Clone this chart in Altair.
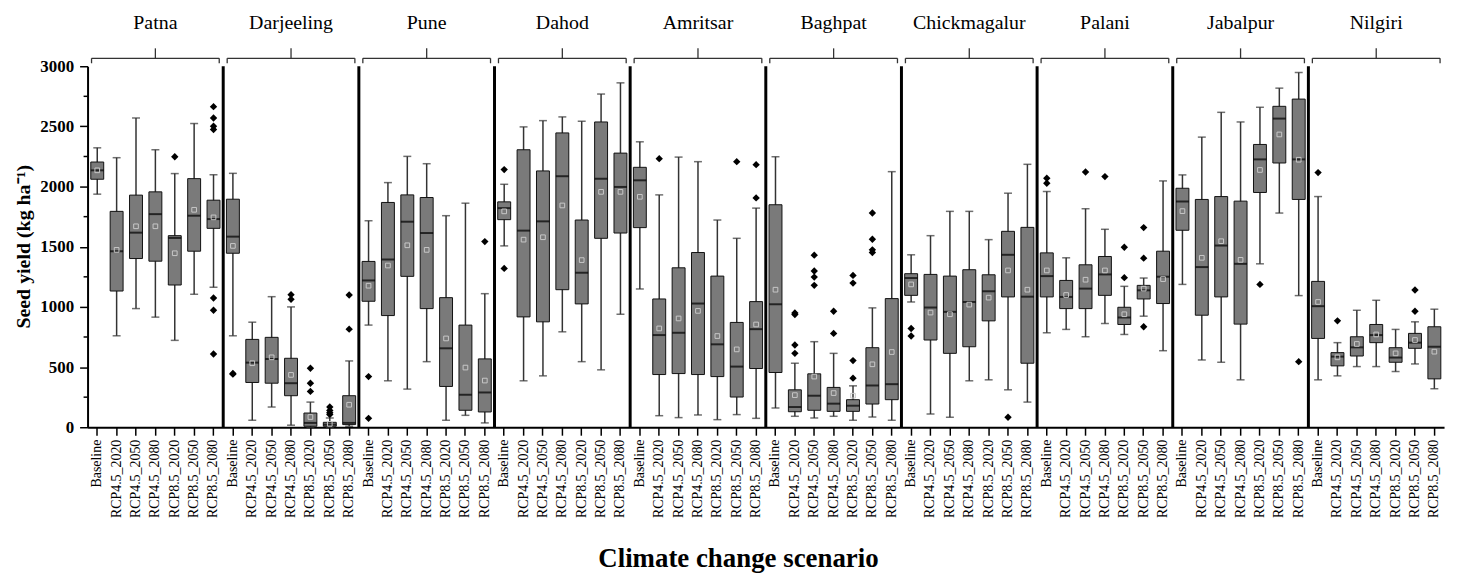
import altair as alt
import pandas as pd

locations = ["Patna", "Darjeeling", "Pune", "Dahod", "Amritsar",
             "Baghpat", "Chickmagalur", "Palani", "Jabalpur", "Nilgiri"]
scenarios = ["Baseline", "RCP4.5_2020", "RCP4.5_2050", "RCP4.5_2080",
             "RCP8.5_2020", "RCP8.5_2050", "RCP8.5_2080"]

# one inner list (7 scenarios) per location
whisker_low = [
    [1937, 760, 986, 915, 722, 1105, 1163],
    [760, 58, 168, 17, 0, 0, 8],
    [849, 386, 317, 545, 58, 99, 36],
    [1507, 386, 427, 793, 545, 477, 939],
    [1149, 96, 80, 102, 63, 105, 74],
    [160, 91, 77, 91, 58, 85, 58],
    [1041, 110, 83, 386, 394, 311, 209],
    [785, 813, 752, 862, 771, 923, 636],
    [1187, 559, 540, 394, 1358, 1780, 1094],
    [394, 427, 504, 504, 463, 526, 320],
]
quartile1 = [
    [2061, 1132, 1402, 1380, 1182, 1463, 1653],
    [1446, 372, 366, 262, 8, 8, 22],
    [1047, 928, 1254, 986, 339, 141, 127],
    [1725, 917, 876, 1143, 1025, 1570, 1614],
    [1659, 438, 446, 438, 421, 251, 488],
    [455, 129, 141, 132, 132, 193, 229],
    [1096, 725, 614, 669, 884, 1083, 532],
    [1083, 986, 986, 1096, 854, 1066, 1028],
    [1637, 931, 1083, 857, 1951, 2196, 1893],
    [738, 510, 592, 703, 540, 656, 402],
]
median = [
    [2135, 1463, 1617, 1771, 1573, 1758, 1730],
    [1584, 537, 567, 366, 36, 22, 36],
    [1220, 1394, 1708, 1614, 656, 270, 289],
    [1821, 1634, 1711, 2086, 1284, 2066, 1997],
    [2052, 766, 785, 1028, 689, 504, 815],
    [1022, 168, 262, 196, 179, 347, 358],
    [1240, 995, 959, 1041, 1130, 1433, 1085],
    [1256, 1083, 1152, 1270, 912, 1138, 1251],
    [1876, 1331, 1510, 1358, 2226, 2565, 2226],
    [1006, 587, 664, 766, 579, 703, 669],
]
quartile3 = [
    [2204, 1794, 1929, 1956, 1592, 2066, 1887],
    [1895, 730, 747, 573, 118, 41, 262],
    [1378, 1868, 1931, 1909, 1077, 849, 568],
    [1873, 2306, 2130, 2446, 1722, 2537, 2278],
    [2160, 1066, 1325, 1452, 1256, 871, 1044],
    [1849, 311, 444, 331, 229, 661, 1069],
    [1276, 1270, 1256, 1309, 1267, 1628, 1661],
    [1449, 1220, 1350, 1419, 997, 1179, 1463],
    [1986, 1893, 1917, 1879, 2350, 2667, 2727],
    [1212, 620, 752, 854, 661, 780, 835],
]
whisker_high = [
    [2322, 2240, 2570, 2306, 2108, 2524, 2099],
    [2110, 873, 1085, 1000, 209, 77, 551],
    [1716, 2033, 2251, 2190, 1758, 1862, 1110],
    [2019, 2496, 2548, 2579, 2543, 2769, 2862],
    [2372, 1931, 2245, 2207, 1722, 1570, 1821],
    [2248, 532, 711, 614, 344, 992, 2124],
    [1433, 1592, 1794, 1794, 1559, 1945, 2185],
    [1959, 1408, 1816, 1645, 1171, 1240, 2047],
    [2097, 2411, 2617, 2537, 2659, 2818, 2948],
    [1917, 703, 972, 1055, 813, 876, 981],
]
mean = [
    [2135, 1474, 1670, 1670, 1446, 1807, 1744],
    [1507, 532, 581, 435, 85, 28, 187],
    [1176, 1344, 1512, 1474, 738, 496, 388],
    [1794, 1559, 1579, 1843, 1389, 1956, 1956],
    [1915, 821, 904, 967, 758, 647, 854],
    [1143, 267, 421, 284, 262, 523, 625],
    [1187, 953, 939, 1019, 1077, 1303, 1143],
    [1303, 1099, 1226, 1303, 939, 1152, 1231],
    [1796, 1408, 1546, 1391, 2138, 2433, 2223],
    [1041, 581, 692, 771, 614, 725, 628],
]
outliers = [
    [[], [], [], [], [2248], [], [2664, 2570, 2501, 2474, 1074, 972, 609]],
    [[441, 447], [], [], [1102, 1063], [490, 366, 298], [168, 140, 120, 105], [1099, 815]],
    [[421, 74], [], [], [], [], [], [1543]],
    [[2141, 1320], [], [], [], [], [], []],
    [[], [2232], [], [], [], [2207], [2182, 1906]],
    [[], [950, 937, 683, 614], [1430, 1298, 1248, 1179], [964, 780],
     [1262, 1198, 554, 408], [1780, 1562, 1474, 1452], []],
    [[821, 758], [], [], [], [], [83], []],
    [[2069, 2028], [], [2121], [2083], [1496, 1243], [1659, 1405, 835], []],
    [[], [], [], [], [1187], [], [545]],
    [[2116], [884], [], [], [], [1141, 964], []],
]
y_major_ticks = [0, 500, 1000, 1500, 2000, 2500, 3000]
y_minor_ticks = [250, 750, 1250, 1750, 2250, 2750]

FONT = "Liberation Serif"

keys = [f"{loc}|{s}" for loc in locations for s in scenarios]
rows, out_rows, groups = [], [], []
for i, loc in enumerate(locations):
    for j, s in enumerate(scenarios):
        k = f"{loc}|{s}"
        rows.append(dict(key=k, low=whisker_low[i][j], q1=quartile1[i][j],
                         med=median[i][j], q3=quartile3[i][j],
                         high=whisker_high[i][j], mean=mean[i][j]))
        for v in outliers[i][j]:
            out_rows.append(dict(key=k, value=v))
    groups.append(dict(loc=loc, key=f"{loc}|{scenarios[0]}",
                       key_mid=f"{loc}|{scenarios[3]}",
                       key_end=f"{loc}|{scenarios[-1]}"))
box_df = pd.DataFrame(rows)
out_df = pd.DataFrame(out_rows)
grp_df = pd.DataFrame(groups)
sep_df = grp_df.iloc[1:]
minor_df = pd.DataFrame({"v": y_minor_ticks})

xscale = alt.Scale(type="band", domain=keys, paddingInner=0, paddingOuter=0)
yscale = alt.Scale(domain=[0, 3000], nice=False, zero=True)

xaxis = alt.Axis(
    title="Climate change scenario",
    labelExpr="split(datum.label, '|')[1]",
    labelAngle=-90, labelFontSize=14, labelFont=FONT, labelColor="#000",
    labelOverlap=False, labelPadding=4,
    tickSize=8, tickWidth=1.5, tickColor="#000",
    domainWidth=2, domainColor="#000",
    titleFont=FONT, titleFontSize=27, titleFontWeight="bold", titleColor="#000",
    titleX=654, titleY=140, titleAlign="center",
    titleBaseline="alphabetic", grid=False,
)
yaxis = alt.Axis(
    title="Seed yield (kg ha⁻¹)",
    values=y_major_ticks, format="d",
    labelFontSize=17, labelFont=FONT, labelFontWeight="bold", labelColor="#000",
    labelPadding=6,
    tickSize=8, tickWidth=1.5, tickColor="#000",
    domainWidth=2, domainColor="#000",
    titleFont=FONT, titleFontSize=20, titleFontWeight="bold", titleColor="#000",
    titleAngle=-90, titleX=-64, titleY=181, titleAlign="center",
    titleBaseline="middle", grid=False,
)


def X(field="key", **kw):
    return alt.X(f"{field}:N", scale=xscale, axis=xaxis, **kw)


def Y(field):
    return alt.Y(f"{field}:Q", scale=yscale, axis=yaxis)


base = alt.Chart(box_df)

whiskers = base.mark_rule(color="#333", strokeWidth=1.5).encode(
    x=X(), y=Y("low"), y2="high:Q")
cap_low = base.mark_tick(size=8, thickness=1.5, color="#333").encode(x=X(), y=Y("low"))
cap_high = base.mark_tick(size=8, thickness=1.5, color="#333").encode(x=X(), y=Y("high"))
boxes = base.mark_bar(size=13, fill="#7a7a7a", stroke="#111", strokeWidth=1).encode(
    x=X(), y=Y("q1"), y2="q3:Q")
medians = base.mark_tick(size=13, thickness=2, color="#000").encode(x=X(), y=Y("med"))
means = base.mark_point(shape="square", size=22, filled=False, color="#c8c8c8",
                        strokeWidth=1, opacity=1).encode(x=X(), y=Y("mean"))
outs = alt.Chart(out_df).mark_point(shape="diamond", size=55, filled=True,
                                    color="#000", opacity=1).encode(x=X(), y=Y("value"))

separators = alt.Chart(sep_df).mark_rule(color="#000", strokeWidth=3).encode(
    x=X(bandPosition=0), y=alt.Y(datum=3000, scale=yscale, axis=yaxis), y2=alt.datum(0))

gchart = alt.Chart(grp_df)
brace_line = gchart.mark_rule(color="#333", strokeWidth=1.3, xOffset=4, x2Offset=-4).encode(
    x=X(bandPosition=0), x2=alt.X2("key_end:N", bandPosition=1), y=alt.value(-8))
brace_left = gchart.mark_rule(color="#333", strokeWidth=1.3, xOffset=4).encode(
    x=X(bandPosition=0), y=alt.value(-8), y2=alt.value(-3))
brace_right = gchart.mark_rule(color="#333", strokeWidth=1.3, xOffset=-4).encode(
    x=X("key_end", bandPosition=1), y=alt.value(-8), y2=alt.value(-3))
brace_tip = gchart.mark_rule(color="#333", strokeWidth=1.3).encode(
    x=X("key_mid"), y=alt.value(-18), y2=alt.value(-8))
loc_labels = gchart.mark_text(font=FONT, fontSize=20, color="#000", baseline="middle").encode(
    x=X("key_mid"), y=alt.value(-43), text="loc:N")

minor = alt.Chart(minor_df).mark_rule(color="#000", strokeWidth=1.5).encode(
    x=alt.value(-4), x2=alt.value(0), y=Y("v"))

chart = alt.layer(
    whiskers, cap_low, cap_high, boxes, medians, means, outs,
    separators, brace_line, brace_left, brace_right, brace_tip, loc_labels, minor,
).properties(
    width=1364, height=363,
    autosize=alt.AutoSizeParams(type="none"),
    padding={"left": 80, "top": 57, "right": 8, "bottom": 145},
).configure(font=FONT).configure_view(strokeWidth=0)

chart.save("out.html", embed_options={"renderer": "svg", "actions": False})
